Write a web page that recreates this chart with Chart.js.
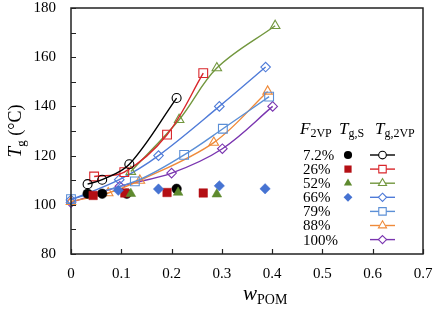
<!DOCTYPE html>
<html>
<head>
<meta charset="utf-8">
<script src="https://cdn.jsdelivr.net/npm/chart.js@4/dist/chart.umd.min.js"></script>
<style>
  html, body { margin: 0; padding: 0; background: #fff; }
  #wrap { width: 436px; height: 311px; }
</style>
</head>
<body>
<div id="wrap"><canvas id="chart"></canvas></div>
<script>
// F2VP fractions shown in the legend
const labels = ['7.2%', '26%', '52%', '66%', '79%', '88%', '100%'];

// Tg,2VP (open markers, smoothed lines)
const x72 = [0.033, 0.062, 0.116, 0.210];
const y72 = [108.4, 110.2, 116.5, 143.4];
const x26 = [0.046, 0.106, 0.191, 0.263];
const y26 = [111.5, 113.3, 128.5, 153.5];
const x52 = [0.119, 0.215, 0.290, 0.406];
const y52 = [113.5, 134.6, 155.6, 172.8];
const x66 = [0, 0.096, 0.174, 0.295, 0.387];
const y66 = [102.0, 110.2, 120.0, 140.0, 156.0];
const x79 = [0, 0.127, 0.225, 0.302, 0.394];
const y79 = [102.3, 109.5, 120.3, 130.9, 144.0];
const x88 = [0, 0.074, 0.137, 0.284, 0.391];
const y88 = [101.3, 104.8, 109.9, 125.3, 146.1];
const x100 = [0, 0.097, 0.200, 0.301, 0.401];
const y100 = [100.9, 107.5, 112.9, 122.8, 140.0];

// Tg,S (filled markers)
const xs72 = [0.033, 0.062, 0.111, 0.210];
const ys72 = [104.5, 104.5, 104.5, 106.5];
const xs26 = [0.044, 0.107, 0.191, 0.263];
const ys26 = [103.8, 104.8, 105.0, 104.8];
const xs52 = [0.119, 0.213, 0.290];
const ys52 = [104.5, 105.0, 104.3];
const xs66 = [0.094, 0.174, 0.295, 0.386];
const ys66 = [105.9, 106.4, 107.7, 106.5];

// axis ticks
const xTicks = [0, 0.1, 0.2, 0.3, 0.4, 0.5, 0.6, 0.7];
const yTicks = [80, 100, 120, 140, 160, 180];

const SERIF = '"Liberation Serif", "Times New Roman", serif';
const pts = (xs, ys) => xs.map((x, i) => ({ x: x, y: ys[i] }));

// look of each series
const lineStyle = [
  { color: '#000000', shape: 'circle',   r: 4.5 },
  { color: '#D9262B', shape: 'rect',     r: 6.2 },
  { color: '#72973E', shape: 'triangle', r: 5.5 },
  { color: '#4F7BD8', shape: 'rectRot',  r: 4.8 },
  { color: '#5B8FD6', shape: 'rect',     r: 6.2 },
  { color: '#EF8A3A', shape: 'triangle', r: 5.5 },
  { color: '#7A35B0', shape: 'rectRot',  r: 4.8 }
];
const fillStyle = [
  { color: '#000000', shape: 'circle',   r: 4.8 },
  { color: '#B40F14', shape: 'rect',     r: 6.0 },
  { color: '#5E8A2E', shape: 'triangle', r: 5.6 },
  { color: '#4673D2', shape: 'rectRot',  r: 5.2 }
];

const openSets = [pts(x72, y72), pts(x26, y26), pts(x52, y52), pts(x66, y66),
                  pts(x79, y79), pts(x88, y88), pts(x100, y100)];
const fillSets = [pts(xs72, ys72), pts(xs26, ys26), pts(xs52, ys52), pts(xs66, ys66)];

// chart.js paints the last dataset first, so later filled series go in front
const datasets = [];
for (let i = fillSets.length - 1; i >= 0; i--) {
  const s = fillStyle[i];
  datasets.push({
    label: labels[i] + ' Tg,S', data: fillSets[i], showLine: false, clip: false,
    pointStyle: s.shape, pointRadius: s.r, pointHoverRadius: s.r,
    pointBackgroundColor: s.color, pointBorderColor: s.color, pointBorderWidth: 0.5
  });
}
openSets.forEach((d, i) => {
  const s = lineStyle[i];
  datasets.push({
    label: labels[i] + ' Tg,2VP', data: d, showLine: true, clip: false,
    borderColor: s.color, borderWidth: 1.4, tension: 0.35,
    pointStyle: s.shape, pointRadius: s.r, pointHoverRadius: s.r,
    pointBackgroundColor: 'rgba(255,255,255,0)', pointBorderColor: s.color, pointBorderWidth: 1.1
  });
});

function drawMarker(ctx, shape, x, y, r, fill, stroke) {
  ctx.beginPath();
  if (shape === 'circle') {
    ctx.arc(x, y, r, 0, Math.PI * 2);
  } else if (shape === 'rect') {
    const h = r * Math.SQRT1_2;
    ctx.rect(x - h, y - h, 2 * h, 2 * h);
  } else if (shape === 'rectRot') {
    ctx.moveTo(x, y - r); ctx.lineTo(x + r, y); ctx.lineTo(x, y + r); ctx.lineTo(x - r, y); ctx.closePath();
  } else if (shape === 'triangle') {
    ctx.moveTo(x, y - r); ctx.lineTo(x + r * 0.866, y + r * 0.5); ctx.lineTo(x - r * 0.866, y + r * 0.5); ctx.closePath();
  }
  if (fill) { ctx.fillStyle = fill; ctx.fill(); }
  if (stroke) { ctx.strokeStyle = stroke; ctx.lineWidth = 1.1; ctx.stroke(); }
}

// text with italic main letters and plain subscripts
function rich(ctx, parts, x, y, align) {
  let w = 0;
  parts.forEach(p => {
    ctx.font = (p.it ? 'italic ' : '') + p.size + 'px ' + SERIF;
    p.w = ctx.measureText(p.t).width; w += p.w;
  });
  let cx = align === 'center' ? x - w / 2 : x;
  ctx.textAlign = 'left';
  ctx.textBaseline = 'alphabetic';
  parts.forEach(p => {
    ctx.font = (p.it ? 'italic ' : '') + p.size + 'px ' + SERIF;
    ctx.fillText(p.t, cx, y + (p.dy || 0));
    cx += p.w;
  });
}

const decor = {
  id: 'decor',
  afterDraw(chart) {
    const { ctx, chartArea: a, scales } = chart;
    ctx.save();
    ctx.fillStyle = '#000';
    // frame
    ctx.strokeStyle = '#222';
    ctx.lineWidth = 1.5;
    ctx.strokeRect(a.left, a.top, a.right - a.left, a.bottom - a.top);
    // inward ticks
    ctx.lineWidth = 1.2;
    ctx.beginPath();
    for (let v = 80; v <= 180; v += 10) {
      const py = Math.round(scales.y.getPixelForValue(v)) + 0.5;
      ctx.moveTo(a.left, py); ctx.lineTo(a.left + 5, py);
    }
    xTicks.forEach(v => {
      const px = Math.round(scales.x.getPixelForValue(v)) + 0.5;
      ctx.moveTo(px, a.bottom); ctx.lineTo(px, a.bottom - 5);
    });
    ctx.stroke();

    // axis titles
    ctx.fillStyle = '#000';
    rich(ctx, [{ t: 'w', it: true, size: 21 }, { t: 'POM', size: 14, dy: 4 }], 243, 300, 'left');
    ctx.save();
    ctx.translate(21, (a.top + a.bottom) / 2);
    ctx.rotate(-Math.PI / 2);
    rich(ctx, [{ t: 'T', it: true, size: 19 }, { t: 'g', size: 13, dy: 4 }, { t: ' (°C)', size: 18 }], 0, 0, 'center');
    ctx.restore();

    // legend table
    const hx = a.left + 229, hy = a.top + 126;
    rich(ctx, [{ t: 'F', it: true, size: 17 }, { t: '2VP', size: 12, dy: 3 }], hx, hy, 'left');
    rich(ctx, [{ t: 'T', it: true, size: 17 }, { t: 'g,S', size: 12, dy: 3 }], hx + 39, hy, 'left');
    rich(ctx, [{ t: 'T', it: true, size: 17 }, { t: 'g,2VP', size: 12, dy: 3 }], hx + 75, hy, 'left');
    labels.forEach((lab, i) => {
      const ry = a.top + 147 + i * 14.1;
      ctx.font = '15px ' + SERIF;
      ctx.textAlign = 'left';
      ctx.textBaseline = 'middle';
      ctx.fillStyle = '#000';
      ctx.fillText(lab, a.left + 232, ry + 1);
      if (i < fillStyle.length) {
        const f = fillStyle[i];
        drawMarker(ctx, f.shape, a.left + 277, ry, f.r * 0.85, f.color, null);
      }
      const s = lineStyle[i];
      ctx.strokeStyle = s.color;
      ctx.lineWidth = 1.4;
      ctx.beginPath();
      ctx.moveTo(a.left + 299, ry); ctx.lineTo(a.left + 324, ry);
      ctx.stroke();
      drawMarker(ctx, s.shape, a.left + 311.5, ry, s.r * 0.85, '#fff', s.color);
    });
    ctx.restore();
  }
};

new Chart(document.getElementById('chart'), {
  type: 'scatter',
  data: { datasets: datasets },
  options: {
    responsive: true,
    maintainAspectRatio: false,
    animation: false,
    layout: { padding: { top: 8, right: 13, left: 0, bottom: 0 } },
    plugins: { legend: { display: false }, tooltip: { enabled: false } },
    scales: {
      x: {
        type: 'linear', min: 0, max: 0.7,
        afterFit: s => { s.height = 57; s.paddingLeft = 0; s.paddingRight = 0; },
        afterBuildTicks: s => { s.ticks = xTicks.map(v => ({ value: v })); },
        grid: { display: false, drawTicks: false },
        border: { display: false },
        ticks: {
          padding: 11, color: '#000', font: { family: SERIF, size: 15 },
          maxRotation: 0, autoSkip: false,
          callback: v => String(+v.toFixed(1))
        }
      },
      y: {
        type: 'linear', min: 80, max: 180,
        afterFit: s => { s.width = 71; s.paddingTop = 0; s.paddingBottom = 0; },
        afterBuildTicks: s => { s.ticks = yTicks.map(v => ({ value: v })); },
        grid: { display: false, drawTicks: false },
        border: { display: false },
        ticks: {
          padding: 15, color: '#000', font: { family: SERIF, size: 15 },
          autoSkip: false
        }
      }
    }
  },
  plugins: [decor]
});
</script>
</body>
</html>
